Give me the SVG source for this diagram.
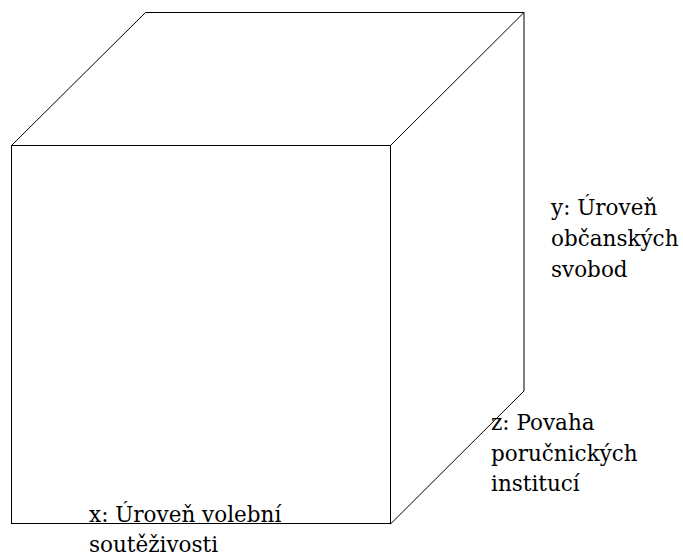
<svg xmlns="http://www.w3.org/2000/svg" width="683" height="557" viewBox="0 0 683 557">
<style>
.e{stroke:#000;stroke-width:1;fill:none}
text{font-family:'DejaVu Serif',serif;font-size:21.5px;fill:#000}
</style>
<rect width="683" height="557" fill="#fff"/>
<g id="cube">
<path class="e" d="M11.5 145.5 L145.5 12.5 L524 12.5 L524 391 L390.5 524"/>
<path class="e" d="M390.5 145.5 L524 12.5"/>
<rect class="e" x="11.5" y="145.5" width="379" height="378"/>
</g>
<g id="label-y">
<text x="551" y="215">y: Úroveň</text>
<text x="551" y="246">občanských</text>
<text x="551" y="277">svobod</text>
</g>
<g id="label-z">
<text x="491" y="430">z: Povaha</text>
<text x="491" y="461">poručnických</text>
<text x="491" y="491">institucí</text>
</g>
<g id="label-x">
<text x="89" y="522">x: Úroveň volební</text>
<text x="89" y="552">soutěživosti</text>
</g>
</svg>
